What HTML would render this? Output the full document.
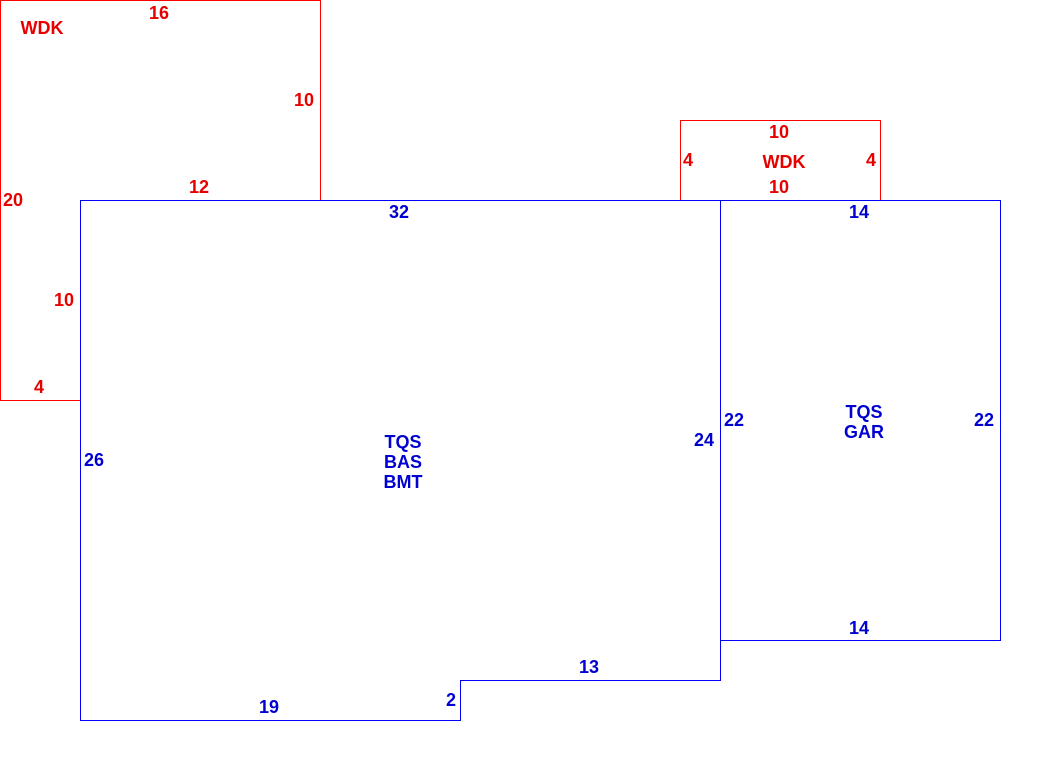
<!DOCTYPE html>
<html><head><style>body{margin:0;background:#fff}svg{display:block}text{font-family:"Liberation Sans",sans-serif;font-weight:bold;font-size:18px;text-anchor:middle}</style></head>
<body>
<svg width="1040" height="772" viewBox="0 0 1040 772">
<g fill="none" stroke-width="1">
<polyline points="80.5,200.5 80.5,400.5 0.5,400.5 0.5,0.5 320.5,0.5 320.5,200.5" stroke="#f00"/>
<polyline points="680.5,200.5 680.5,120.5 880.5,120.5 880.5,200.5" stroke="#f00"/>
<polygon points="80.5,200.5 720.5,200.5 720.5,680.5 460.5,680.5 460.5,720.5 80.5,720.5" stroke="#00f"/>
<polyline points="720.5,200.5 1000.5,200.5 1000.5,640.5 720.5,640.5" stroke="#00f"/>
</g>
<g fill="#e60000">
<text x="42" y="34">WDK</text>
<text x="159" y="19">16</text>
<text x="304" y="106">10</text>
<text x="199" y="193">12</text>
<text x="13" y="206">20</text>
<text x="64" y="306">10</text>
<text x="39" y="393">4</text>
<text x="779" y="138">10</text>
<text x="688" y="166">4</text>
<text x="784" y="168">WDK</text>
<text x="871" y="166">4</text>
<text x="779" y="193">10</text>
</g>
<g fill="#0000d0">
<text x="399" y="218">32</text>
<text x="859" y="218">14</text>
<text x="403" y="448">TQS</text>
<text x="403" y="468">BAS</text>
<text x="403" y="488">BMT</text>
<text x="864" y="418">TQS</text>
<text x="864" y="438">GAR</text>
<text x="734" y="426">22</text>
<text x="984" y="426">22</text>
<text x="704" y="446">24</text>
<text x="94" y="466">26</text>
<text x="859" y="634">14</text>
<text x="589" y="673">13</text>
<text x="451" y="706">2</text>
<text x="269" y="713">19</text>
</g>
</svg>
</body></html>
